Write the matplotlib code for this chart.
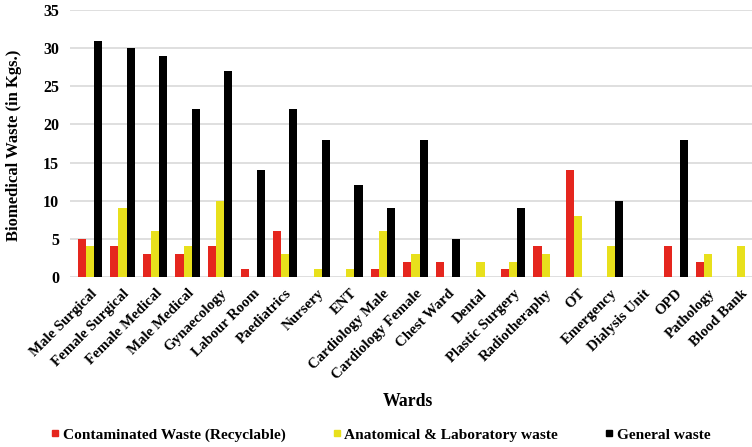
import matplotlib
matplotlib.use("Agg")
import matplotlib.pyplot as plt
from matplotlib.lines import Line2D
import numpy as np

wards = ["Male Surgical", "Female Surgical", "Female Medical", "Male Medical",
         "Gynaecology", "Labour Room", "Paediatrics", "Nursery", "ENT",
         "Cardiology Male", "Cardiology Female", "Chest Ward", "Dental",
         "Plastic Surgery", "Radiotheraphy", "OT", "Emergency", "Dialysis Unit",
         "OPD", "Pathology", "Blood Bank"]
contaminated = [5, 4, 3, 3, 4, 1, 6, 0, 0, 1, 2, 2, 0, 1, 4, 14, 0, 0, 4, 2, 0]
anatomical = [4, 9, 6, 4, 10, 0, 3, 1, 1, 6, 3, 0, 2, 2, 3, 8, 4, 0, 0, 3, 4]
general = [31, 30, 29, 22, 27, 14, 22, 18, 12, 9, 18, 5, 0, 9, 0, 0, 10, 0, 18, 0, 0]

series_names = ["Contaminated Waste (Recyclable)", "Anatomical & Laboratory waste",
                "General waste"]
colors = ["#e5261e", "#e8e01c", "#000000"]

plt.rcParams["font.family"] = ["Liberation Serif", "DejaVu Serif"]
plt.rcParams["font.weight"] = "bold"

fig = plt.figure(figsize=(7.52, 4.47), dpi=100)
ax = fig.add_axes([70 / 752, (447 - 277) / 447, 682 / 752, 267 / 447])

x = np.arange(len(wards))
w = 0.25
for k, (vals, c) in enumerate(zip([contaminated, anatomical, general], colors)):
    ax.bar(x + (k - 1) * w, vals, width=w, color=c, edgecolor="none", zorder=3)

ax.set_ylim(0, 35)
ax.set_yticks(range(0, 36, 5))
ax.set_xlim(-0.614, 20.34)
ax.yaxis.grid(True, color="#d9d9d9", linewidth=1.2, zorder=0)
ax.set_axisbelow(True)
for s in ax.spines.values():
    s.set_visible(False)
ax.tick_params(axis="both", length=0)
ax.tick_params(axis="y", pad=8, labelsize=11.5)
ax.set_xticks(x)
ax.set_xticklabels(wards, rotation=45, ha="right", rotation_mode="anchor",
                   fontsize=10.7, fontweight="bold")
ax.tick_params(axis="x", pad=7)
for lbl in ax.get_yticklabels():
    lbl.set_fontweight("bold")

ax.set_ylabel("Biomedical Waste (in Kgs.)", fontsize=12, fontweight="bold")
ax.yaxis.set_label_coords(-(70 - 22) / 682, (277 - 145) / 267)
fig.text(408 / 752, 1 - 402 / 447, "Wards", ha="center", va="center",
         fontsize=12.8, fontweight="bold")

handles = [Line2D([], [], marker="s", linestyle="none", markersize=4.5,
                  markerfacecolor=c, markeredgecolor=c) for c in colors]
fig.legend(handles, series_names, loc="center", ncol=3,
           bbox_to_anchor=(381 / 752, 1 - 435 / 447), frameon=False,
           handlelength=0.5, handletextpad=0.25, columnspacing=3.05,
           borderpad=0, prop={"weight": "bold", "size": 11.1})

fig.savefig("out.png", dpi=100)
